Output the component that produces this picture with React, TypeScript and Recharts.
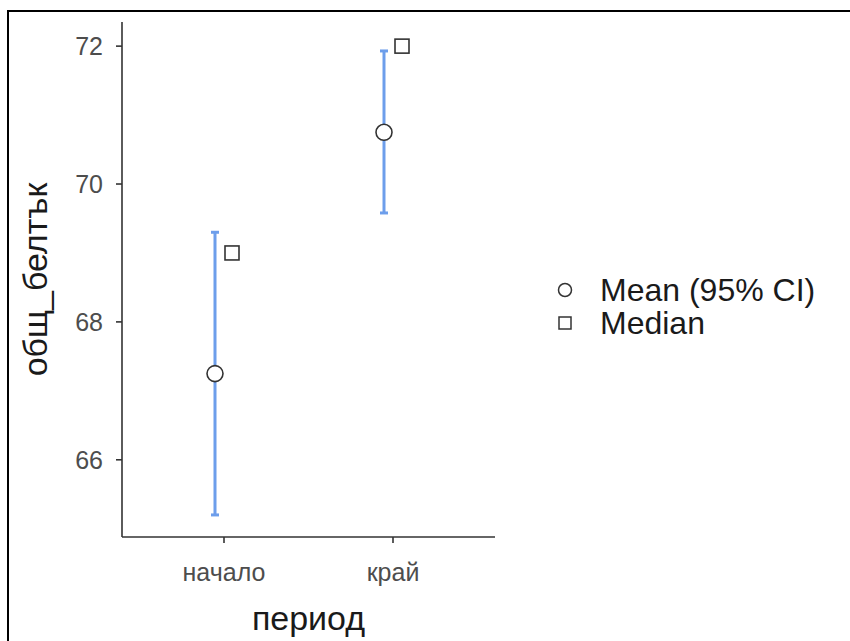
import React from "react";
import { ComposedChart, Line, XAxis, YAxis, ErrorBar, Legend } from "recharts";

const periods = ["начало", "край"];
const means = [67.25, 70.75];
const ciLow = [65.2, 69.58];
const ciHigh = [69.3, 71.93];
const medians = [69, 72];
const yTicks = [66, 68, 70, 72];
const legendLabels = ["Mean (95% CI)", "Median"];

const data = periods.map((p, i) => ({
  period: p,
  mean: means[i],
  ci: [means[i] - ciLow[i], ciHigh[i] - means[i]],
  median: medians[i],
}));

const FONT = "'Liberation Sans', Arial, sans-serif";
const BLUE = "#6D9EEB";
const DARK = "#333333";

const MeanDot = (props: any) => {
  const { cx, cy, index } = props;
  if (cx == null || cy == null) return null;
  return <circle key={`m-${index}`} cx={cx} cy={cy} r={8} fill="#ffffff" stroke={DARK} strokeWidth={1.6} />;
};

const MedianDot = (props: any) => {
  const { cx, cy, index } = props;
  if (cx == null || cy == null) return null;
  return <rect key={`d-${index}`} x={cx - 7} y={cy - 7} width={14} height={14} fill="#ffffff" stroke={DARK} strokeWidth={1.6} />;
};

const LegendContent = () => (
  <div style={{ fontFamily: FONT, fontSize: 32, color: "#1a1a1a", lineHeight: 1 }}>
    {legendLabels.map((l, i) => (
      <div key={l} style={{ display: "flex", alignItems: "center", height: 33, whiteSpace: "nowrap" }}>
        <svg width={35} height={20} style={{ marginRight: 10 }}>
          {i === 0 ? (
            <circle cx={10} cy={10} r={6.5} fill="#fff" stroke={DARK} strokeWidth={1.5} />
          ) : (
            <rect x={4} y={4} width={12} height={12} fill="#fff" stroke={DARK} strokeWidth={1.5} />
          )}
        </svg>
        <span style={{ lineHeight: "30px" }}>{l}</span>
      </div>
    ))}
  </div>
);

export default function App() {
  return (
    <div style={{ position: "absolute", left: 0, top: 0, width: 850, height: 641, overflow: "hidden", background: "#fff" }}>
      <div
        style={{
          position: "absolute",
          left: 7,
          top: 10,
          width: 900,
          height: 700,
          border: "2px solid #000",
          boxSizing: "border-box",
        }}
      />
      <div style={{ position: "absolute", left: 0, top: 0 }}>
        <ComposedChart width={850} height={641} data={data} margin={{ top: 22, right: 355, bottom: 0, left: 22 }}>
          <XAxis
            xAxisId="main"
            dataKey="period"
            type="category"
            height={104}
            padding={{ left: 102, right: 102 }}
            axisLine={{ stroke: DARK, strokeWidth: 1.6 }}
            tickLine={{ stroke: DARK, strokeWidth: 1.6 }}
            tickSize={6}
            tickMargin={20}
            tick={{ fontSize: 25, fill: "#4D4D4D", fontFamily: FONT }}
            label={{ value: "период", position: "insideBottom", offset: 11, style: { fontSize: 34, fill: "#1a1a1a", fontFamily: FONT } }}
          />
          <XAxis xAxisId="mean" dataKey="period" type="category" hide padding={{ left: 93, right: 111 }} />
          <XAxis xAxisId="median" dataKey="period" type="category" hide padding={{ left: 110, right: 93 }} />
          <YAxis
            type="number"
            domain={[64.88, 72.35]}
            ticks={yTicks}
            allowDataOverflow
            width={100}
            axisLine={{ stroke: DARK, strokeWidth: 1.6 }}
            tickLine={{ stroke: DARK, strokeWidth: 1.6 }}
            tickSize={6}
            tickMargin={13}
            tick={{ fontSize: 25, fill: "#4D4D4D", fontFamily: FONT }}
            label={{ value: "общ_белтък", angle: -90, position: "insideLeft", offset: 13, style: { textAnchor: "middle", fontSize: 34, fill: "#1a1a1a", fontFamily: FONT } }}
          />
          <Legend
            layout="vertical"
            align="center"
            verticalAlign="middle"
            content={<LegendContent />}
            wrapperStyle={{ position: "absolute", left: 555, top: 273, width: 295 }}
          />
          <Line
            xAxisId="mean"
            dataKey="mean"
            stroke="none"
            dot={<MeanDot />}
            activeDot={false}
            isAnimationActive={false}
            legendType="none"
          >
            <ErrorBar dataKey="ci" direction="y" width={4} strokeWidth={3} stroke={BLUE} />
          </Line>
          <Line
            xAxisId="median"
            dataKey="median"
            stroke="none"
            dot={<MedianDot />}
            activeDot={false}
            isAnimationActive={false}
            legendType="none"
          />
        </ComposedChart>
      </div>
    </div>
  );
}
